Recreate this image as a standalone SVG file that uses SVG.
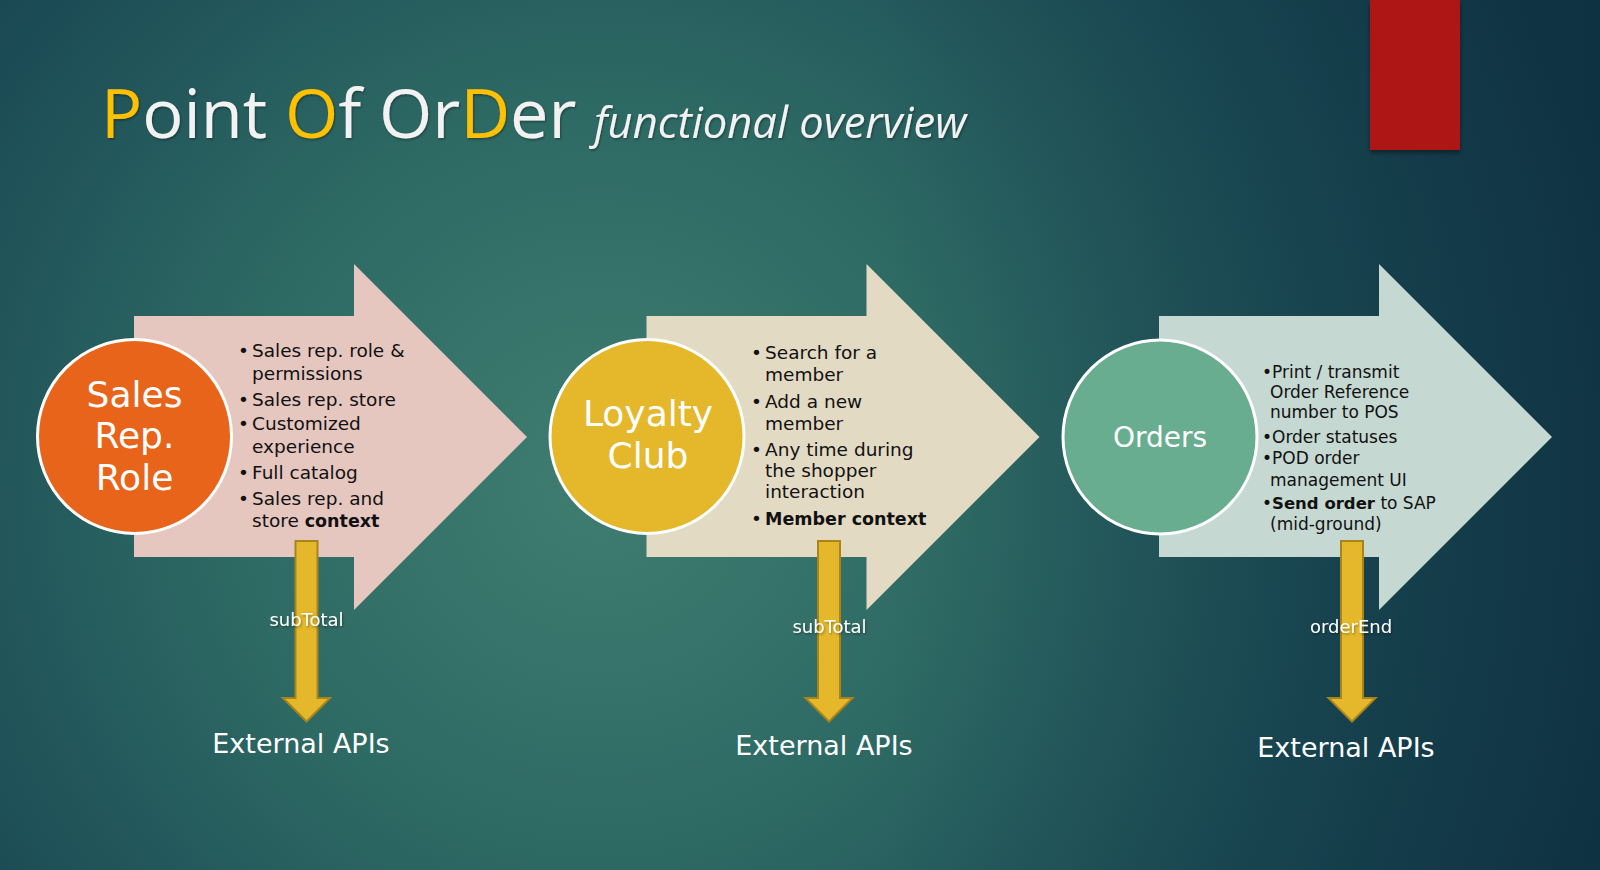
<svg xmlns="http://www.w3.org/2000/svg" width="1600" height="870" viewBox="0 0 1600 870">
<defs>
<radialGradient id="bg" gradientUnits="userSpaceOnUse" cx="600" cy="480" r="1050">
<stop offset="0" stop-color="#3F7D71"/>
<stop offset="0.35" stop-color="#2E6A64"/>
<stop offset="0.7" stop-color="#1B4B55"/>
<stop offset="1" stop-color="#113545"/>
</radialGradient>
<linearGradient id="dark" x1="0" y1="0" x2="1" y2="0">
<stop offset="0.55" stop-color="#0E3040" stop-opacity="0"/>
<stop offset="1" stop-color="#0E3040" stop-opacity="0.45"/>
</linearGradient>
<filter id="sh" x="-10%" y="-10%" width="120%" height="140%">
<feDropShadow dx="1" dy="1.5" stdDeviation="1" flood-color="#000" flood-opacity="0.35"/>
</filter>
<filter id="rs" x="-20%" y="-20%" width="140%" height="140%">
<feDropShadow dx="0" dy="3" stdDeviation="2" flood-color="#000" flood-opacity="0.4"/>
</filter>
<style>
.list{font-family:"DejaVu Sans",sans-serif;font-size:18.5px;fill:#111}
.list3{font-family:"DejaVu Sans",sans-serif;font-size:17px;fill:#111}
.b{font-weight:bold}
.circ{font-family:"DejaVu Sans",sans-serif;fill:#fff;text-anchor:middle}
.circle{stroke:#fff;stroke-width:3}
.yarrow{fill:#E5B82B;stroke:#A8841A;stroke-width:2}
.lbl{font-family:"DejaVu Sans",sans-serif;font-size:18px;fill:#fff;text-anchor:middle}
.ext{font-family:"DejaVu Sans",sans-serif;font-size:27px;fill:#fff;text-anchor:middle}
</style>
</defs>
<rect width="1600" height="870" fill="url(#bg)"/>
<rect width="1600" height="870" fill="url(#dark)"/>
<rect x="1370" y="0" width="90" height="150" fill="#AE1915" filter="url(#rs)"/>

<g id="title" filter="url(#sh)">
<text x="101" y="138" font-family="'Open Sans',sans-serif" font-size="68.5" fill="#F2F2F2"><tspan fill="#FFC000">P</tspan>oint <tspan fill="#FFC000">O</tspan>f Or<tspan fill="#FFC000">D</tspan>er <tspan font-size="43.5" font-style="italic" x="594">functional overview</tspan></text>
</g>

<g id="node-sales">
<polygon points="134,316 354,316 354,264 527,437 354,610 354,557 134,557" fill="#E5C7C0"/>
<circle class="circle" cx="134.5" cy="436.5" r="97" fill="#E8641A"/>
<text class="circ" font-size="36"><tspan x="134.5" y="407">Sales</tspan><tspan x="134.5" y="448">Rep.</tspan><tspan x="134.5" y="490">Role</tspan></text>
<text class="list">
<tspan x="238" y="357">•</tspan><tspan x="252" y="357">Sales rep. role &amp;</tspan>
<tspan x="252" y="380">permissions</tspan>
<tspan x="238" y="406">•</tspan><tspan x="252" y="406">Sales rep. store</tspan>
<tspan x="238" y="430">•</tspan><tspan x="252" y="430">Customized</tspan>
<tspan x="252" y="453">experience</tspan>
<tspan x="238" y="479">•</tspan><tspan x="252" y="479">Full catalog</tspan>
<tspan x="238" y="505">•</tspan><tspan x="252" y="505">Sales rep. and</tspan>
<tspan x="252" y="527">store <tspan class="b" font-size="17.5">context</tspan></tspan>
</text>
</g>

<g id="node-loyalty">
<polygon points="646.5,316 866.5,316 866.5,264 1039.5,437 866.5,610 866.5,557 646.5,557" fill="#E3DAC4"/>
<circle class="circle" cx="647" cy="436.5" r="97" fill="#E5B82B"/>
<text class="circ" font-size="36"><tspan x="648" y="426">Loyalty</tspan><tspan x="648" y="468">Club</tspan></text>
<text class="list">
<tspan x="751" y="359">•</tspan><tspan x="765" y="359">Search for a</tspan>
<tspan x="765" y="381">member</tspan>
<tspan x="751" y="408">•</tspan><tspan x="765" y="408">Add a new</tspan>
<tspan x="765" y="430">member</tspan>
<tspan x="751" y="456">•</tspan><tspan x="765" y="456">Any time during</tspan>
<tspan x="765" y="477">the shopper</tspan>
<tspan x="765" y="498">interaction</tspan>
<tspan x="751" y="525">•</tspan><tspan x="765" y="525" class="b" font-size="17.5">Member context</tspan>
</text>
</g>

<g id="node-orders">
<polygon points="1159,316 1379,316 1379,264 1552,437 1379,610 1379,557 1159,557" fill="#C5D8D2"/>
<circle class="circle" cx="1160" cy="437" r="97" fill="#68AD8F"/>
<text class="circ" font-size="28" x="1160" y="447">Orders</text>
<text class="list3">
<tspan x="1262" y="378">•</tspan><tspan x="1272" y="378">Print / transmit</tspan>
<tspan x="1270" y="398">Order Reference</tspan>
<tspan x="1270" y="418">number to POS</tspan>
<tspan x="1262" y="443">•</tspan><tspan x="1272" y="443">Order statuses</tspan>
<tspan x="1262" y="464">•</tspan><tspan x="1272" y="464">POD order</tspan>
<tspan x="1270" y="486">management UI</tspan>
<tspan x="1262" y="509">•</tspan><tspan x="1272" y="509"><tspan class="b" font-size="16.5">Send order</tspan> to SAP</tspan>
<tspan x="1270" y="530">(mid-ground)</tspan>
</text>
</g>

<g id="connectors">
<polygon class="yarrow" points="295.5,541 317.5,541 317.5,698 330,698 306.5,721.5 283,698 295.5,698"/>
<polygon class="yarrow" points="818,541 840,541 840,698 852.5,698 829,721.5 805.5,698 818,698"/>
<polygon class="yarrow" points="1341,541 1363,541 1363,698 1375.5,698 1352,721.5 1328.5,698 1341,698"/>
<text class="lbl" x="306.5" y="626" filter="url(#sh)">subTotal</text>
<text class="lbl" x="829.5" y="633" filter="url(#sh)">subTotal</text>
<text class="lbl" x="1351" y="633" font-size="18.5" filter="url(#sh)">orderEnd</text>
</g>

<g id="node-ext1"><text class="ext" x="301" y="753">External APIs</text></g>
<g id="node-ext2"><text class="ext" x="824" y="755">External APIs</text></g>
<g id="node-ext3"><text class="ext" x="1346" y="757">External APIs</text></g>
</svg>
